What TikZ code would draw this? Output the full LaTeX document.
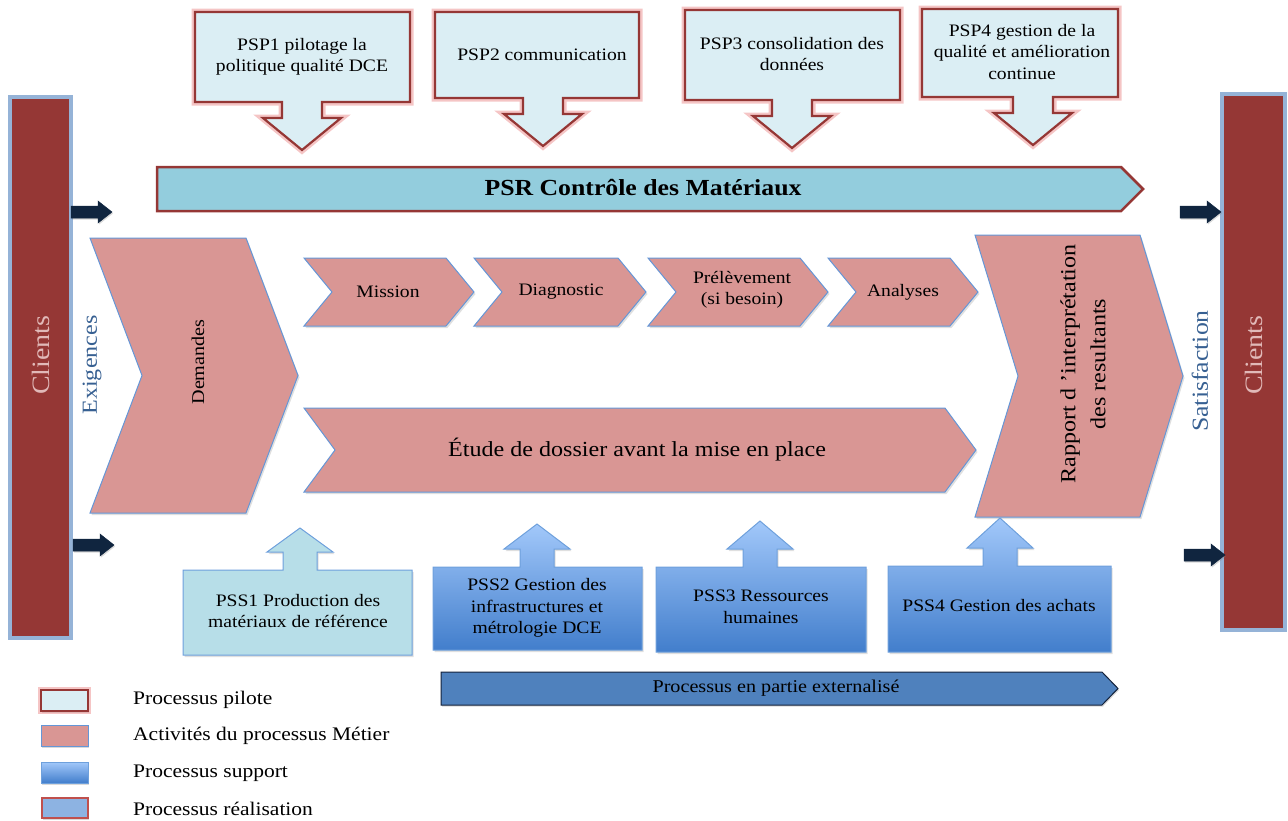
\documentclass[tikz,border=0pt]{standalone}
\usepackage{fontspec}
\setmainfont{Liberation Serif}[FakeStretch=1.12]
\usetikzlibrary{shadows}

\definecolor{pilotfill}{RGB}{219,238,244}
\definecolor{pilotline}{RGB}{149,55,53}
\definecolor{glowc}{RGB}{235,140,140}
\definecolor{actfill}{RGB}{217,150,148}
\definecolor{actline}{RGB}{100,150,215}
\definecolor{psrfill}{RGB}{147,205,221}
\definecolor{clientfill}{RGB}{149,55,53}
\definecolor{clientline}{RGB}{149,179,215}
\definecolor{clienttext}{RGB}{225,185,184}
\definecolor{flowtext}{RGB}{55,96,146}
\definecolor{navy}{RGB}{16,37,63}
\definecolor{pss1fill}{RGB}{183,222,232}
\definecolor{supline}{RGB}{110,160,220}
\definecolor{suptop}{RGB}{162,200,250}
\definecolor{supbot}{RGB}{66,126,204}
\definecolor{extfill}{RGB}{79,129,189}
\definecolor{extline}{RGB}{20,35,60}
\definecolor{realfill}{RGB}{141,179,226}
\definecolor{realline}{RGB}{192,80,77}

% down-pointing callout: style, x1, x2, top, bottom, arrow centre
\newcommand\downcallout[6]{%
  \path[#1] (#2,#4) -- (#3,#4) -- (#3,#5) -- ({#6+20},#5) -- ({#6+20},{#5+16})
    -- ({#6+39},{#5+16}) -- (#6,{#5+48}) -- ({#6-39},{#5+16}) -- ({#6-20},{#5+16})
    -- ({#6-20},#5) -- (#2,#5) -- cycle;}
% up-pointing callout: style, x1, x2, top, bottom, arrow centre, tip y
\newcommand\upcallout[7]{%
  \path[#1] (#2,#5) -- (#2,#4) -- ({#6-17},#4) -- ({#6-17},{#4-18}) -- ({#6-33},{#4-18})
    -- (#6,#7) -- ({#6+33},{#4-18}) -- ({#6+17},{#4-18}) -- ({#6+17},#4)
    -- (#3,#4) -- (#3,#5) -- cycle;}
% chevron: style, left, right, top, bottom, depth
\newcommand\chevron[6]{%
  \path[#1] (#2,#4) -- ({#3-#6},#4) -- (#3,{(#4+#5)/2}) -- ({#3-#6},#5) -- (#2,#5)
    -- ({#2+#6},{(#4+#5)/2}) -- cycle;}
% small navy block arrow pointing right: left x, centre y
\newcommand\navyarrow[2]{%
  \path[navyarr] (#1,{#2-6}) -- ({#1+27},{#2-6}) -- ({#1+27},{#2-11}) -- ({#1+41},#2)
    -- ({#1+27},{#2+11}) -- ({#1+27},{#2+6}) -- (#1,{#2+6}) -- cycle;}

\begin{document}
\begin{tikzpicture}[x=1pt,y=-1pt,
  pilot/.style={preaction={draw=glowc,line width=7pt,opacity=0.5},
    fill=pilotfill,draw=pilotline,line width=2.2pt},
  act/.style={fill=actfill,draw=actline,line width=1pt,
    drop shadow={shadow xshift=1.5pt,shadow yshift=-2pt,opacity=0.25}},
  sup/.style={top color=suptop,bottom color=supbot,draw=supline,line width=1pt,
    drop shadow={shadow xshift=1.5pt,shadow yshift=-2pt,opacity=0.25}},
  sup1/.style={fill=pss1fill,draw=supline,line width=1pt,
    drop shadow={shadow xshift=1.5pt,shadow yshift=-2pt,opacity=0.25}},
  navyarr/.style={fill=navy,draw=navy,line width=0.5pt,
    drop shadow={shadow xshift=1pt,shadow yshift=-1.5pt,opacity=0.3}},
  client/.style={fill=clientfill,draw=clientline,line width=3.5pt},
  txt/.style={align=center,inner sep=0pt,font=\fontsize{17.5}{21.5}\selectfont,text=black},
  legtxt/.style={anchor=west,inner sep=0pt,font=\fontsize{19.2}{22}\selectfont},
  legbox/.style={line width=1.8pt,
    drop shadow={shadow xshift=1pt,shadow yshift=-1.5pt,opacity=0.3}}
]
\useasboundingbox (0,0) rectangle (1288,820);

% client bars
\path[client] (10,97) rectangle (71,638);
\path[client] (1222,94) rectangle (1285,630);
\node[rotate=90,text=clienttext,font=\fontsize{25}{30}\selectfont] (cl) at (41,355) {Clients};
\node[rotate=90,text=clienttext,font=\fontsize{25}{30}\selectfont] (cr) at (1254,355) {Clients};

% input / output arrows
\navyarrow{71}{212}
\navyarrow{73}{545}
\navyarrow{1180}{212}
\navyarrow{1184}{555}
\node[rotate=90,text=flowtext,font=\fontsize{21.5}{25}\selectfont] (exig) at (92,365) {Exigences};
\node[rotate=90,text=flowtext,font=\fontsize{23}{27}\selectfont] (satis) at (1200,371) {Satisfaction};

% steering processes
\downcallout{pilot}{195}{410}{12}{102}{302}
\downcallout{pilot}{435}{639}{12}{98}{543}
\downcallout{pilot}{685}{900}{10}{100}{792}
\downcallout{pilot}{922}{1118}{9}{97}{1033}
\node[txt] (psp1) at (302,57) {PSP1 pilotage la\\politique qualité DCE};
\node[txt] (psp2) at (542,55) {PSP2 communication};
\node[txt] (psp3) at (792,54) {PSP3 consolidation des\\données};
\node[txt] (psp4) at (1022,52) {PSP4 gestion de la\\qualité et amélioration\\continue};

% main realisation process
\path[fill=psrfill,draw=pilotline,line width=2.5pt]
  (157,167) -- (1121,167) -- (1143,189) -- (1121,211) -- (157,211) -- cycle;
\node[font=\bfseries\fontsize{23}{27}\selectfont] (psr) at (643,188) {PSR Contrôle des Matériaux};

% business activities
\chevron{act}{90}{298}{238}{513}{52}
\chevron{act}{304}{474}{258}{326}{28}
\chevron{act}{474}{646}{258}{326}{28}
\chevron{act}{648}{828}{258}{326}{28}
\chevron{act}{828}{978}{258}{326}{28}
\chevron{act}{304}{976}{408}{492}{31}
\chevron{act}{975}{1183}{235}{517}{43}
\node[rotate=90,font=\fontsize{18}{22}\selectfont] (dem) at (198,362) {Demandes};
\node[txt] (mis) at (388,292) {Mission};
\node[txt] (diag) at (561,292) {Diagnostic};
\node[txt] (prel) at (742,290) {Prélèvement\\(si besoin)};
\node[txt] (ana) at (903,292) {Analyses};
\node[txt,font=\fontsize{21.5}{25}\selectfont] (etude) at (637,450) {Étude de dossier avant la mise en place};
\node[rotate=90,align=center,font=\fontsize{21.5}{30}\selectfont] (rap) at (1083,364)
  {Rapport d 'interprétation\\des resultants};

% support processes
\upcallout{sup1}{183}{412}{570}{655}{300}{528}
\upcallout{sup}{433}{642}{567}{650}{537}{524}
\upcallout{sup}{656}{866}{567}{652}{760}{521}
\upcallout{sup}{888}{1111}{566}{652}{1000}{518}
\node[txt] (pss1) at (298,611) {PSS1 Production des\\matériaux de référence};
\node[txt] (pss2) at (537,608) {PSS2 Gestion des\\infrastructures et\\métrologie DCE};
\node[txt] (pss3) at (761,607) {PSS3 Ressources\\humaines};
\node[txt] (pss4) at (999,606) {PSS4 Gestion des achats};

% partly outsourced
\path[fill=extfill,draw=extline,line width=1pt,
  drop shadow={shadow xshift=1pt,shadow yshift=-1.5pt,opacity=0.3}]
  (441,672) -- (1102,672) -- (1118,688.5) -- (1102,705) -- (441,705) -- cycle;
\node[txt,font=\fontsize{18}{21}\selectfont] (ext) at (776,688) {Processus en partie externalisé};

% legend
\path[legbox,fill=pilotfill,draw=pilotline,preaction={draw=glowc,line width=6pt,opacity=0.5}]
  (41,690) rectangle (88,711);
\path[legbox,fill=actfill,draw=actline,line width=1pt] (41,725) rectangle (88,746);
\path[legbox,top color=suptop,bottom color=supbot,draw=supline,line width=1pt] (41,762) rectangle (88,783);
\path[legbox,fill=realfill,draw=realline] (42,798) rectangle (88,818);
\node[legtxt] (l1) at (133,700) {Processus pilote};
\node[legtxt] (l2) at (133,736) {Activités du processus Métier};
\node[legtxt] (l3) at (133,773) {Processus support};
\node[legtxt] (l4) at (133,809) {Processus réalisation};
\end{tikzpicture}
\end{document}
